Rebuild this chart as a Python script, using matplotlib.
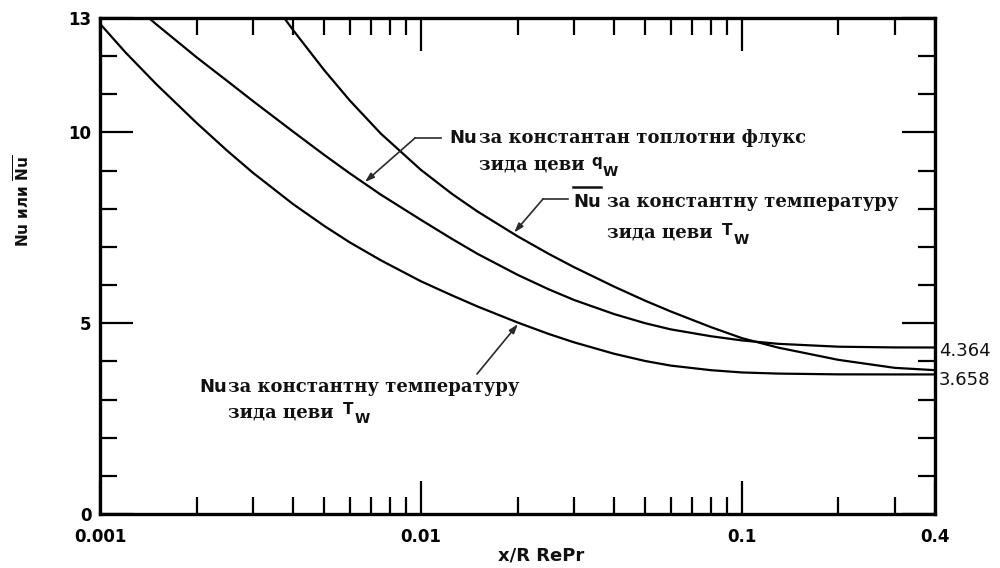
import matplotlib
matplotlib.use("Agg")
import numpy as np
import matplotlib.pyplot as plt
from matplotlib.ticker import FixedLocator, FixedFormatter, NullFormatter
from matplotlib.lines import Line2D

# ---------------- data ----------------
# local Nu, constant wall temperature T_w
x_nu_t = [0.001, 0.0012, 0.0015, 0.002, 0.0025, 0.003, 0.004, 0.005, 0.006,
          0.0075, 0.01, 0.0125, 0.015, 0.02, 0.025, 0.03, 0.04, 0.05, 0.06,
          0.08, 0.1, 0.13, 0.2, 0.3, 0.4]
y_nu_t = [12.85, 12.10, 11.26, 10.25, 9.51, 8.94, 8.12, 7.55, 7.12,
          6.65, 6.10, 5.73, 5.44, 5.02, 4.72, 4.50, 4.20, 4.01, 3.89,
          3.77, 3.71, 3.68, 3.66, 3.658, 3.658]

# local Nu, constant wall heat flux q_w
x_nu_q = [0.00142, 0.0015, 0.002, 0.0025, 0.003, 0.004, 0.005, 0.006, 0.0075,
          0.01, 0.0125, 0.015, 0.02, 0.025, 0.03, 0.04, 0.05, 0.06, 0.08,
          0.1, 0.13, 0.2, 0.3, 0.4]
y_nu_q = [13.0, 12.83, 11.97, 11.34, 10.82, 10.02, 9.41, 8.93, 8.37,
          7.71, 7.21, 6.82, 6.27, 5.89, 5.61, 5.24, 5.00, 4.84, 4.66,
          4.55, 4.46, 4.385, 4.366, 4.364]

# mean Nu, constant wall temperature T_w
x_nu_mt = [0.00375, 0.004, 0.005, 0.006, 0.0075, 0.01, 0.0125, 0.015, 0.02,
           0.025, 0.03, 0.04, 0.05, 0.06, 0.08, 0.1, 0.13, 0.2, 0.3, 0.4]
y_nu_mt = [13.0, 12.68, 11.63, 10.84, 9.97, 9.02, 8.39, 7.93, 7.28,
           6.82, 6.47, 5.96, 5.59, 5.31, 4.90, 4.61, 4.36, 4.04, 3.83, 3.77]

xtick_vals = [0.001, 0.01, 0.1, 0.4]
xtick_labels = ["0.001", "0.01", "0.1", "0.4"]
ytick_vals = [0, 5, 10, 13]
ytick_labels = ["0", "5", "10", "13"]
limit_values = ["4.364", "3.658"]

# ---------------- figure ----------------
W, H = 1000, 568
fig = plt.figure(figsize=(W / 100, H / 100), dpi=100)
fig.patch.set_facecolor("white")
ax = fig.add_axes([100 / W, 1 - 514 / H, 835 / W, (514 - 18) / H])

for xs, ys in [(x_nu_t, y_nu_t), (x_nu_q, y_nu_q), (x_nu_mt, y_nu_mt)]:
    ax.plot(xs, ys, color="black", lw=1.6, solid_joinstyle="round")

ax.set_xscale("log")
ax.set_xlim(0.001, 0.4)
ax.set_ylim(0, 13)

xminor = [k * 10.0 ** e for e in (-3, -2) for k in range(2, 10)] + [0.2, 0.3]
ax.xaxis.set_major_locator(FixedLocator(xtick_vals))
ax.xaxis.set_major_formatter(FixedFormatter(xtick_labels))
ax.xaxis.set_minor_locator(FixedLocator(xminor))
ax.xaxis.set_minor_formatter(NullFormatter())
ax.yaxis.set_major_locator(FixedLocator(ytick_vals))
ax.yaxis.set_major_formatter(FixedFormatter(ytick_labels))
ax.yaxis.set_minor_locator(FixedLocator([v for v in range(1, 13) if v not in (5, 10)]))

ax.tick_params(which="both", direction="in", top=True, right=True,
               width=1.6, color="black")
ax.tick_params(which="major", length=24)
ax.tick_params(which="minor", length=12)
ax.tick_params(axis="x", which="major", pad=10)
ax.tick_params(axis="y", which="major", pad=6)
for lab in ax.get_xticklabels() + ax.get_yticklabels():
    lab.set_fontfamily("DejaVu Sans")
    lab.set_fontweight("bold")
    lab.set_fontsize(12)
for sp in ax.spines.values():
    sp.set_linewidth(2.4)

# ---------------- texts ----------------
def fx(px):
    return px / W


def fy(py):
    return 1 - py / H


renderer = fig.canvas.get_renderer()
SANS = dict(family="DejaVu Sans", weight="bold")
SERIF = dict(family="DejaVu Serif", weight="bold")


def put(s, x, y, size, fam, color="#111111"):
    t = fig.text(fx(x), fy(y), s, ha="left", va="baseline", fontsize=size,
                 color=color, **fam)
    return t.get_window_extent(renderer)


# label 1: Nu for constant heat flux
put("Nu", 449, 143, 13, SANS)
put("за константан топлотни флукс", 479, 143, 13, SERIF)
put("зида цеви", 479, 170, 13, SERIF)
bbq = put("q", 591, 166, 11, SANS)
put("W", bbq.x1 + 1, 176, 10, SANS)

# label 2: mean Nu for constant wall temperature
bbn = put("Nu", 573, 207, 13, SANS)
fig.add_artist(Line2D([bbn.x0 / W, bbn.x1 / W], [fy(187), fy(187)],
                      transform=fig.transFigure, color="#111111", lw=1.8))
put("за константну температуру", 607, 207, 13, SERIF)
put("зида цеви", 607, 238, 13, SERIF)
bbt = put("T", 722, 235, 11, SANS)
put("W", bbt.x1 + 1, 244, 10, SANS)

# label 3: local Nu for constant wall temperature
put("Nu", 199, 392, 13, SANS)
put("за константну температуру", 228, 392, 13, SERIF)
put("зида цеви", 228, 418, 13, SERIF)
bbt = put("T", 343, 414, 11, SANS)
put("W", bbt.x1 + 1, 423, 10, SANS)

# limit values at the right
fig.text(fx(939), fy(351), limit_values[0], ha="left", va="center",
         fontsize=13, family="DejaVu Sans", color="#111111")
fig.text(fx(939), fy(380), limit_values[1], ha="left", va="center",
         fontsize=13, family="DejaVu Sans", color="#111111")

# axis labels
fig.text(fx(541), fy(555), "x/R RePr", ha="center", va="center",
         fontsize=13, color="#111111", **SANS)
fig.text(fx(23), fy(201), r"Nu или $\overline{\mathbf{Nu}}$", ha="center",
         va="center", rotation=90, fontsize=11, color="#111111", **SANS)

# ---------------- leader lines with arrows ----------------
def on_curve(xv, xs, ys):
    return float(np.interp(np.log10(xv), np.log10(xs), ys))


LEAD = "#2a2a2a"
ARROW = dict(arrowstyle="-|>,head_length=0.55,head_width=0.18", color=LEAD,
             lw=1.2, shrinkA=0, shrinkB=1)

# label 1 -> heat-flux curve
xt = 0.00664
ax.annotate("", xy=(xt, on_curve(xt, x_nu_q, y_nu_q)), xycoords="data",
            xytext=(fx(415), fy(138)), textcoords="figure fraction",
            arrowprops=ARROW)
fig.add_artist(Line2D([fx(415), fx(441)], [fy(138), fy(138)],
                      transform=fig.transFigure, color=LEAD, lw=1.2))

# label 2 -> mean-Nu curve
xt = 0.0194
ax.annotate("", xy=(xt, on_curve(xt, x_nu_mt, y_nu_mt)), xycoords="data",
            xytext=(fx(543), fy(199)), textcoords="figure fraction",
            arrowprops=ARROW)
fig.add_artist(Line2D([fx(543), fx(568)], [fy(199), fy(199)],
                      transform=fig.transFigure, color=LEAD, lw=1.2))

# label 3 -> local Nu, constant T
xt = 0.0202
ax.annotate("", xy=(xt, on_curve(xt, x_nu_t, y_nu_t)), xycoords="data",
            xytext=(fx(477), fy(374)), textcoords="figure fraction",
            arrowprops=ARROW)

fig.savefig("out.png", dpi=100, facecolor="white")
